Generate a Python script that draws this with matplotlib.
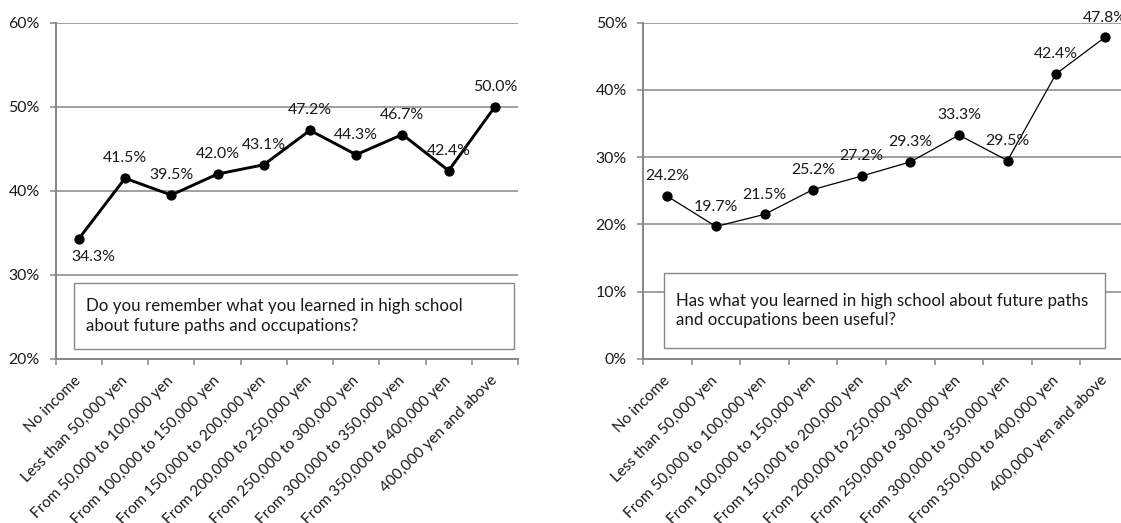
import matplotlib
matplotlib.use('Agg')
import matplotlib.pyplot as plt
from matplotlib.patches import Rectangle
from matplotlib.ticker import FixedLocator, PercentFormatter

categories = ['No income', 'Less than 50,000 yen', 'From 50,000 to 100,000 yen',
              'From 100,000 to 150,000 yen', 'From 150,000 to 200,000 yen',
              'From 200,000 to 250,000 yen', 'From 250,000 to 300,000 yen',
              'From 300,000 to 350,000 yen', 'From 350,000 to 400,000 yen',
              '400,000 yen and above']

remember = [34.3, 41.5, 39.5, 42.0, 43.1, 47.2, 44.3, 46.7, 42.4, 50.0]
useful = [24.2, 19.7, 21.5, 25.2, 27.2, 29.3, 33.3, 29.5, 42.4, 47.8]

remember_q = 'Do you remember what you learned in high school\nabout future paths and occupations?'
useful_q = 'Has what you learned in high school about future paths\nand occupations been useful?'

GRAY = '#868686'
TXT = '#1a1a1a'
W, H = 1121, 523

fig = plt.figure(figsize=(W / 100, H / 100), dpi=100)


def px_rect(x0, y0, x1, y1):
    # pixel box (top-left origin) -> figure fraction [l, b, w, h]
    return [x0 / W, 1 - y1 / H, (x1 - x0) / W, (y1 - y0) / H]


def draw_panel(rect, values, ylim, yticks, lw, box, question, first_below=False):
    ax = fig.add_axes(rect)
    xs = [i + 0.5 for i in range(len(values))]
    ax.set_xlim(0, len(values))
    ax.set_ylim(*ylim)

    ax.plot(xs, values, color='black', lw=lw, marker='o', ms=6.4, zorder=4)

    for i, (x, v) in enumerate(zip(xs, values)):
        off = (0, 14.3)
        if i == 0 and first_below:
            off = (10.8, -13.3)
        ax.annotate(f'{v:.1f}%', (x, v), xytext=off, textcoords='offset points',
                    ha='center', va='center', fontsize=11.4, family='Lato',
                    color=TXT, annotation_clip=False, zorder=5)

    ax.yaxis.set_major_locator(FixedLocator(yticks))
    ax.yaxis.set_major_formatter(PercentFormatter(decimals=0))
    ax.grid(axis='y', color=GRAY, lw=1.1)
    ax.set_axisbelow(True)

    ax.xaxis.set_major_locator(FixedLocator(range(len(values) + 1)))
    ax.xaxis.set_major_formatter(plt.NullFormatter())
    ax.xaxis.set_minor_locator(FixedLocator(xs))
    ax.set_xticklabels(categories, minor=True, rotation=45, ha='right',
                       va='center', rotation_mode='anchor', fontsize=11,
                       family='Lato', color=TXT)
    ax.tick_params(axis='x', which='minor', length=0, pad=14)
    ax.tick_params(axis='x', which='major', length=4, color=GRAY, width=1.1)
    ax.tick_params(axis='y', length=4.5, color=GRAY, width=1.1, pad=7,
                   labelsize=11.4, labelcolor=TXT)
    for lab in ax.get_yticklabels():
        lab.set_family('Lato')

    for side in ['left', 'bottom']:
        ax.spines[side].set_color(GRAY)
        ax.spines[side].set_linewidth(1.4)
    ax.spines['right'].set_visible(False)
    ax.spines['top'].set_visible(False)

    bx0, by0, bx1, by1 = box
    l, b, w, h = px_rect(bx0, by0, bx1, by1)
    fig.patches.append(Rectangle((l, b), w, h, transform=fig.transFigure,
                                 facecolor='white', edgecolor=GRAY, lw=1.0,
                                 zorder=3))
    fig.text(l + 12 / W, b + h / 2, question, ha='left', va='center',
             fontsize=12.2, family='Lato', color=TXT, linespacing=1.25,
             zorder=4)
    return ax


draw_panel(px_rect(55.7, 22.7, 518, 359), remember, (20, 60), [20, 30, 40, 50, 60],
           2.1, (74, 283, 514, 349), remember_q, first_below=True)
draw_panel(px_rect(643, 22.7, 1129, 359), useful, (0, 50), [0, 10, 20, 30, 40, 50],
           0.9, (664, 273, 1105, 348), useful_q)

fig.savefig('out.png', dpi=100)
